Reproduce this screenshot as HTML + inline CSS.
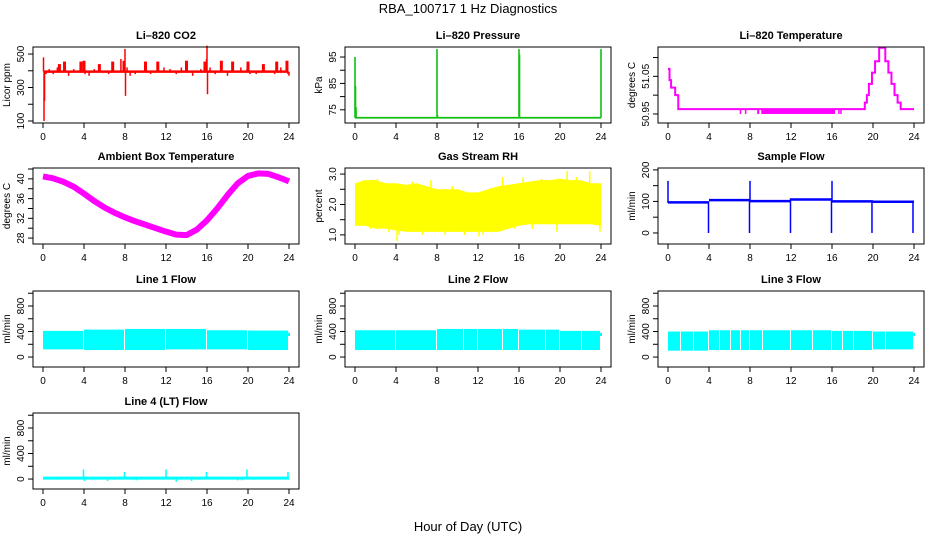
<!DOCTYPE html>
<html><head><meta charset="utf-8">
<style>
html,body{margin:0;padding:0;background:#fff;}
svg{display:block;font-family:"Liberation Sans",sans-serif;}
</style></head>
<body>
<svg id="fig" width="936" height="540" viewBox="0 0 936 540" xmlns="http://www.w3.org/2000/svg">
<text x="468" y="13" text-anchor="middle" font-size="13">RBA_100717  1 Hz Diagnostics</text>
<text x="468" y="531" text-anchor="middle" font-size="13">Hour of Day (UTC)</text>
</svg>
<script>
// ---------- data ----------
const xTicks = [0,4,8,12,16,20,24];
// CO2
const co2Base = 395;
const co2SpikeHours = [0.05,0.1,0.15,0.3,0.6,1.0,1.4,1.6,2.1,2.5,3.0,3.5,3.7,4.0,4.1,4.5,5.0,5.5,6.4,6.8,7.6,7.9,8.0,8.05,8.2,8.5,9.0,9.6,10.0,10.5,11.2,11.8,12.4,13.0,13.5,14.0,14.6,15.4,15.8,15.95,16.0,16.05,16.3,16.8,17.4,18.0,18.5,19.3,19.9,20.0,20.2,20.8,21.5,21.8,22.6,22.8,23.2,23.8,23.9,24.0];
const co2SpikeValues = [480,100,220,380,410,380,420,440,455,370,410,400,455,460,380,370,410,440,380,455,470,460,530,250,420,370,380,400,455,380,455,420,410,380,420,460,370,410,455,470,550,260,420,380,460,370,455,420,410,455,380,380,440,400,380,455,420,460,380,370];
// Pressure
const presBase = 72;
const presSpikeHours = [0.0,0.05,0.1,8.0,8.05,16.0,16.05,24.0];
const presSpikeValues = [95,84,76,98,73,98,96,98];
// Li-820 temperature (step series)
const tempHours = [0,0.15,0.3,0.7,1.0,19.0,19.2,19.4,19.6,19.9,20.2,20.6,21.2,21.5,21.8,22.1,22.4,22.7,24];
const tempValues = [51.07,51.04,51.02,51.00,50.963,50.963,50.98,51.00,51.03,51.06,51.09,51.126,51.09,51.06,51.03,51.00,50.98,50.963,50.963];
const tempDipStart = [7.0,7.5,8.7,9.1,16.6,16.8];
const tempDipEnd = [7.1,7.6,8.9,16.3,16.7,16.9];
const tempDipValue = 50.95;
// Ambient box temperature (hourly)
const ambHours = [0,1,2,3,4,5,6,7,8,9,10,11,12,13,14,15,16,17,18,19,20,21,22,23,24];
const ambValues = [40.5,40.1,39.4,38.4,37.0,35.5,34.2,33.1,32.2,31.4,30.7,30.0,29.3,28.7,28.6,29.7,31.6,34.0,36.7,39.1,40.6,41.1,41.0,40.3,39.5];
// Gas stream RH band (hourly)
const rhLow = [1.3,1.3,1.2,1.2,1.15,1.1,1.1,1.1,1.1,1.1,1.1,1.1,1.1,1.1,1.1,1.2,1.3,1.35,1.35,1.35,1.35,1.35,1.35,1.35,1.3];
const rhHigh = [2.7,2.8,2.8,2.7,2.7,2.65,2.7,2.6,2.5,2.5,2.5,2.4,2.4,2.5,2.6,2.65,2.7,2.75,2.8,2.8,2.85,2.8,2.8,2.7,2.7];
const rhSpikeHours = [0.8,1.5,2.2,3.3,4.1,4.3,5.6,6.6,7.4,8.8,9.5,10.7,12.1,12.5,13.3,14.4,15.6,16.4,17.3,18.2,19.7,20.7,21.6,22.9,23.9];
const rhSpikeValues = [2.8,1.2,2.85,1.1,0.8,1.0,2.75,1.0,2.8,1.0,2.6,1.0,0.95,1.0,2.55,2.9,1.2,2.9,1.2,2.85,1.1,3.1,2.9,3.1,1.1];
// Sample flow
const sfSegStart = [0,4,8,12,16,20];
const sfSegEnd = [4,8,12,16,20,24];
const sfSegValue = [97,104,101,106,100,99];
const sfSpikeHours = [0.0,3.95,7.95,8.0,11.95,15.95,16.0,19.9,23.9];
const sfSpikeLow = [95,0,0,100,0,0,100,0,0];
const sfSpikeHigh = [165,100,100,165,110,110,165,100,100];
// Line flows (4-hour blocks)
const flowBlockStart = [0,4,8,12,16,20];
const flowBlockEnd = [4,8,12,16,20,23.9];
const line1High = [410,430,440,440,420,415];
const line1Low = [120,110,110,120,120,110];
const line1Gaps = [3.95,7.95,11.95,15.95,19.9];
const line2High = [420,420,440,440,430,410];
const line2Low = [110,110,110,110,110,110];
const line2Gaps = [3.95,7.95,10.5,11.95,14.3,15.95,18.5,19.9,22.0];
const line3High = [400,420,420,420,410,400];
const line3Low = [100,110,110,110,110,120];
const line3Gaps = [1.2,2.4,3.95,5.0,6.0,7.0,7.95,9.2,11.95,14.0,15.95,17.0,18.0,19.9,21.2];
// Line 4 (LT) flow
const line4Base = 15;
const line4SpikeHours = [1.4,3.95,4.05,6.3,7.95,9.1,12.0,13.0,14.5,15.95,19.0,19.4,19.9,23.9];
const line4SpikeValues = [-10,150,-30,-30,110,-20,150,-40,-30,110,-20,-20,150,110];

// ---------- layout ----------
const svg = document.getElementById('fig');
const NS = 'http://www.w3.org/2000/svg';
const colLeft = [33,345,658], panelW = 266, rowTop = [47,168,291,413], panelH = 76;
function mk(tag, attrs, parent){const e=document.createElementNS(NS,tag);for(const k in attrs)e.setAttribute(k,attrs[k]);(parent||svg).appendChild(e);return e;}

function panel(cfg){
  const L=colLeft[cfg.col], T=rowTop[cfg.row], W=panelW, H=panelH;
  const g=mk('g',{});
  
  
  const xs=h=>L+10+h/24*(W-20);
  const ys=v=>T+H-(v-cfg.ymin)/(cfg.ymax-cfg.ymin)*H;
  const t=mk('text',{x:L+W/2,y:T-8,'text-anchor':'middle','font-size':'11','font-weight':'bold'},g);
  t.textContent=cfg.title;
  
  
  const cg=mk('g',{},g);
  
  
  cfg.draw(cg,xs,ys);
  const box=mk('rect',{x:L,y:T,width:W,height:H,fill:'none',stroke:'#000','stroke-width':1},g);
  
  
  const xa=mk('g',{},g);
  
  
  mk('line',{x1:xs(0),x2:xs(24),y1:T+H,y2:T+H,stroke:'#000'},xa);
  xTicks.forEach(h=>{
    mk('line',{x1:xs(h),x2:xs(h),y1:T+H,y2:T+H+5,stroke:'#000'},xa);
    const l=mk('text',{x:xs(h),y:T+H+17,'text-anchor':'middle','font-size':'10'},xa);
    l.textContent=h;
  });
  const ya=mk('g',{},g);
  
  
  const tk=cfg.yticks;
  mk('line',{x1:L,x2:L,y1:ys(tk[0]),y2:ys(tk[tk.length-1]),stroke:'#000'},ya);
  tk.forEach(v=>mk('line',{x1:L-5,x2:L,y1:ys(v),y2:ys(v),stroke:'#000'},ya));
  cfg.ylabels.forEach((s,i)=>{
    const v=cfg.ylabelVals[i];
    const l=mk('text',{x:0,y:0,'text-anchor':'middle','font-size':'10',transform:`translate(${L-9},${ys(v)}) rotate(-90)`},ya);
    l.textContent=s;
  });
  const yt=mk('text',{x:0,y:0,'text-anchor':'middle','font-size':'10',transform:`translate(${L-23},${T+H/2}) rotate(-90)`},ya);
  yt.textContent=cfg.ylab;
  
  
}
function vline(p,x,y1,y2,col,w){return mk('line',{x1:x,x2:x,y1:y1,y2:y2,stroke:col,'stroke-width':w},p);}

function bandDraw(high,low,gaps,col){
  return (p,xs,ys)=>{
    flowBlockStart.forEach((s,i)=>{
      const r=mk('rect',{x:xs(s),y:ys(high[i]),width:xs(flowBlockEnd[i])-xs(s),height:ys(low[i])-ys(high[i]),fill:col},p);
      
      
    });
    vline(p,xs(24),ys(330),ys(380),col,2);
    gaps.forEach(h=>vline(p,Math.round(xs(h))+0.5,ys(450),ys(90),'#fff',1));
  };
}
const flowTicks=[0,200,400,600,800,1000];

panel({name:'co2-panel',col:0,row:0,title:'Li\u2013820 CO2',ylab:'Licor ppm',ymin:88,ymax:542,
  yticks:[100,200,300,400,500],ylabels:['100','300','500'],ylabelVals:[100,300,500],
  draw:(p,xs,ys)=>{
    mk('line',{x1:xs(0.1),x2:xs(23.9),y1:ys(co2Base),y2:ys(co2Base),stroke:'#f00','stroke-width':2.5},p);
    co2SpikeHours.forEach((h,i)=>{const l=vline(p,xs(h),ys(co2Base),ys(co2SpikeValues[i]),'#f00',co2SpikeValues[i]>420&&co2SpikeValues[i]<470?3:1.5);
      });
  }});
panel({name:'pressure-panel',col:1,row:0,title:'Li\u2013820 Pressure',ylab:'kPa',ymin:70,ymax:98.8,
  yticks:[75,80,85,90,95],ylabels:['75','85','95'],ylabelVals:[75,85,95],
  draw:(p,xs,ys)=>{
    mk('line',{x1:xs(0),x2:xs(24),y1:ys(presBase),y2:ys(presBase),stroke:'#10c010','stroke-width':1.8},p);
    presSpikeHours.forEach((h,i)=>{const l=vline(p,xs(h),ys(presBase),ys(presSpikeValues[i]),'#10c010',1.6);
      });
  }});
panel({name:'li820-temp-panel',col:2,row:0,title:'Li\u2013820 Temperature',ylab:'degrees C',ymin:50.926,ymax:51.128,
  yticks:[50.95,51.0,51.05,51.1],ylabels:['50.95','51.05'],ylabelVals:[50.95,51.05],
  draw:(p,xs,ys)=>{
    let d='';
    tempHours.forEach((h,i)=>{d+=(i?'H'+xs(h)+'V'+ys(tempValues[i]):'M'+xs(h)+' '+ys(tempValues[i]));});
    mk('path',{d:d,fill:'none',stroke:'#f0f','stroke-width':2},p);
    tempDipStart.forEach((s,i)=>{mk('rect',{x:xs(s),y:ys(50.963),width:Math.max(1.5,xs(tempDipEnd[i])-xs(s)),height:ys(tempDipValue)-ys(50.963),fill:'#f0f'},p);});
  }});
panel({name:'ambient-temp-panel',col:0,row:1,title:'Ambient Box Temperature',ylab:'degrees C',ymin:26.8,ymax:42.2,
  yticks:[28,30,32,34,36,38,40,42],ylabels:['28','32','36','40'],ylabelVals:[28,32,36,40],
  draw:(p,xs,ys)=>{
    const pts=ambHours.map((h,i)=>xs(h)+','+ys(ambValues[i])).join(' ');
    mk('polyline',{points:pts,fill:'none',stroke:'#f0f','stroke-width':6,'stroke-linejoin':'round'},p);
  }});
panel({name:'gas-rh-panel',col:1,row:1,title:'Gas Stream RH',ylab:'percent',ymin:0.7,ymax:3.2,
  yticks:[1.0,1.5,2.0,2.5,3.0],ylabels:['1.0','2.0','3.0'],ylabelVals:[1,2,3],
  draw:(p,xs,ys)=>{
    let top='',bot='';
    ambHours.forEach((h,i)=>{top+=(i?'L':'M')+xs(h)+' '+ys(rhHigh[i]);});
    for(let i=ambHours.length-1;i>=0;i--)bot+='L'+xs(ambHours[i])+' '+ys(rhLow[i]);
    mk('path',{d:top+bot+'Z',fill:'#ff0'},p);
    rhSpikeHours.forEach((h,i)=>vline(p,xs(h),ys(2.0),ys(rhSpikeValues[i]),'#ff0',1.5));
  }});
panel({name:'sample-flow-panel',col:2,row:1,title:'Sample Flow',ylab:'ml/min',ymin:-35,ymax:206,
  yticks:[0,50,100,150,200],ylabels:['0','100','200'],ylabelVals:[0,100,200],
  draw:(p,xs,ys)=>{
    sfSegStart.forEach((s,i)=>mk('line',{x1:xs(s),x2:xs(sfSegEnd[i]),y1:ys(sfSegValue[i]),y2:ys(sfSegValue[i]),stroke:'#00f','stroke-width':2.5},p));
    sfSpikeHours.forEach((h,i)=>vline(p,xs(h),ys(sfSpikeLow[i]),ys(sfSpikeHigh[i]),'#00f',1.5));
  }});
panel({name:'line1-flow-panel',col:0,row:2,title:'Line 1 Flow',ylab:'ml/min',ymin:-156,ymax:1035,
  yticks:flowTicks,ylabels:['0','400','800'],ylabelVals:[0,400,800],draw:bandDraw(line1High,line1Low,line1Gaps,'#0ff')});
panel({name:'line2-flow-panel',col:1,row:2,title:'Line 2 Flow',ylab:'ml/min',ymin:-156,ymax:1035,
  yticks:flowTicks,ylabels:['0','400','800'],ylabelVals:[0,400,800],draw:bandDraw(line2High,line2Low,line2Gaps,'#0ff')});
panel({name:'line3-flow-panel',col:2,row:2,title:'Line 3 Flow',ylab:'ml/min',ymin:-156,ymax:1035,
  yticks:flowTicks,ylabels:['0','400','800'],ylabelVals:[0,400,800],draw:bandDraw(line3High,line3Low,line3Gaps,'#0ff')});
panel({name:'line4-flow-panel',col:0,row:3,title:'Line 4 (LT) Flow',ylab:'ml/min',ymin:-156,ymax:1035,
  yticks:flowTicks,ylabels:['0','400','800'],ylabelVals:[0,400,800],
  draw:(p,xs,ys)=>{
    mk('line',{x1:xs(0),x2:xs(24),y1:ys(line4Base),y2:ys(line4Base),stroke:'#0ff','stroke-width':3},p);
    line4SpikeHours.forEach((h,i)=>vline(p,xs(h),ys(line4Base),ys(line4SpikeValues[i]),'#0ff',1.5));
  }});
</script>
</body></html>
